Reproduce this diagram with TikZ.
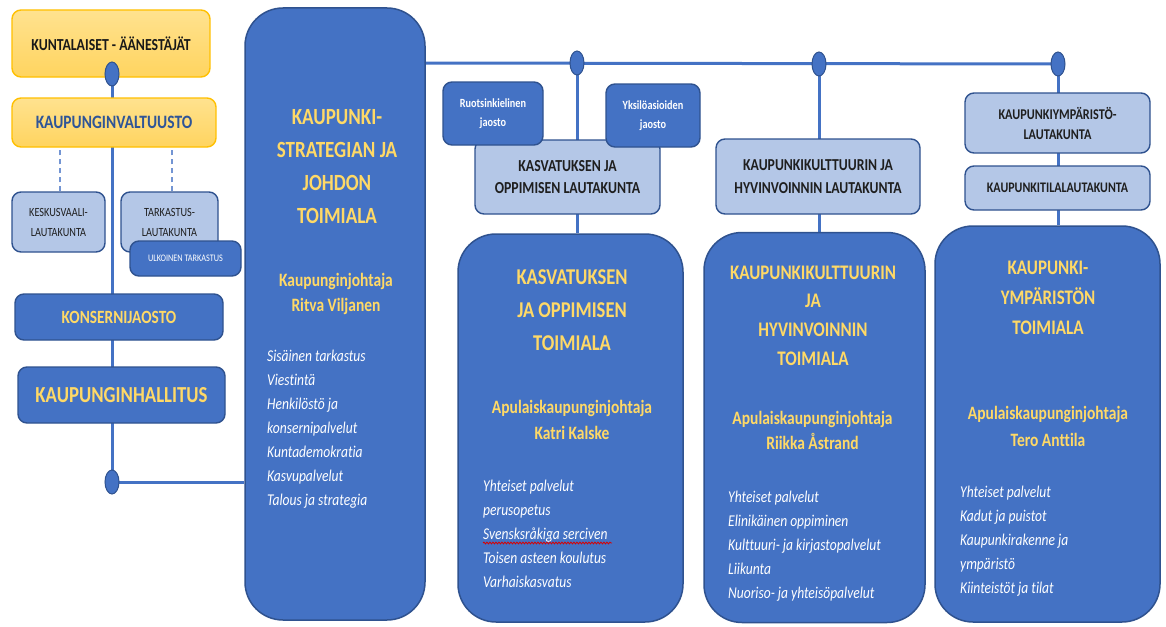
\documentclass[tikz,border=0pt]{standalone}
\usepackage{fontspec}
\setmainfont{Carlito}[FakeStretch=0.82, Ligatures=NoCommon]
\usetikzlibrary{shapes.geometric,decorations.pathmorphing}
\pgfdeclarelayer{background}
\pgfsetlayers{background,main}

\definecolor{orgblue}{HTML}{4472C4}
\definecolor{edgeblue}{HTML}{2F528F}
\definecolor{paleblue}{HTML}{B4C7E7}
\definecolor{titleyellow}{HTML}{FFD966}
\definecolor{goldtop}{HTML}{FFE28F}
\definecolor{goldbottom}{HTML}{FFD45F}
\definecolor{goldedge}{HTML}{FFC000}
\definecolor{councilblue}{HTML}{2F5597}
\newcommand\fsz[2]{\fontsize{#1}{#2}\selectfont}

\tikzset{
  bus/.style={draw=orgblue, line width=3pt},
  guide/.style={draw=orgblue!75, line width=1.1pt, dash pattern=on 5pt off 4pt},
  junction/.style={ellipse, fill=orgblue, draw=edgeblue, line width=1pt,
    minimum width=14pt, minimum height=24pt, inner sep=0pt},
  card/.style={rectangle, rounded corners=9pt, line width=1.4pt, draw=edgeblue,
    align=center, inner sep=0pt},
  bluecard/.style={card, fill=orgblue, text=white},
  palecard/.style={card, fill=paleblue, text=black!88},
  goldcard/.style={card, draw=goldedge, top color=goldtop, bottom color=goldbottom},
  division/.style={rectangle, rounded corners=38pt, line width=1.5pt,
    draw=edgeblue, fill=orgblue},
  divtitle/.style={text=titleyellow, align=center, inner sep=0pt, anchor=north},
  divlead/.style={text=titleyellow, align=center, inner sep=0pt, anchor=north},
  divlist/.style={text=white, align=left, inner sep=0pt, anchor=north west},
  spellmark/.style={draw=red!85!black, line width=0.8pt, decorate,
    decoration={snake, amplitude=0.9pt, segment length=3pt}},
}

\begin{document}
\begin{tikzpicture}[x=1pt,y=-1pt]
\begin{pgfonlayer}{background}
  \fill[white] (0,0) rectangle (1166,626);
\end{pgfonlayer}
\useasboundingbox (0,0) rectangle (1166,626);

% --- council column ---
\node[goldcard, minimum width=198pt, minimum height=67pt, text=black!90,
  font=\bfseries\fsz{16.8}{20}] (citizens) at (111,43.5) {KUNTALAISET - ÄÄNESTÄJÄT};
\node[goldcard, minimum width=204pt, minimum height=49pt, text=councilblue,
  font=\bfseries\fsz{18.9}{22}] (council) at (114,122.5) {KAUPUNGINVALTUUSTO};
\node[palecard, minimum width=93pt, minimum height=60pt,
  font=\fsz{12.5}{20}] (elect) at (58.5,222) {KESKUSVAALI-\\LAUTAKUNTA};
\node[palecard, minimum width=97pt, minimum height=60pt,
  font=\fsz{12.5}{20}] (audit) at (169.5,222) {TARKASTUS-\\LAUTAKUNTA};
\node[bluecard, minimum width=111pt, minimum height=35pt,
  font=\fsz{10}{12}] (extaudit) at (185.5,258.5) {ULKOINEN TARKASTUS};
\node[bluecard, minimum width=208pt, minimum height=46pt, text=titleyellow,
  font=\bfseries\fsz{18.7}{22}] (group) at (119,317) {KONSERNIJAOSTO};
\node[bluecard, minimum width=207pt, minimum height=56pt, text=titleyellow,
  font=\bfseries\fsz{22.9}{26}] (board) at (121.5,395) {KAUPUNGINHALLITUS};

% --- divisions ---
\node[division, minimum width=180pt, minimum height=612pt] (d1) at (335,314) {};
\node[division, minimum width=225pt, minimum height=388pt] (d2) at (570.5,428) {};
\node[division, minimum width=221pt, minimum height=390pt] (d3) at (814.5,427.5) {};
\node[division, minimum width=225pt, minimum height=396pt] (d4) at (1047.5,424) {};

% --- committees ---
\node[palecard, minimum width=185pt, minimum height=74pt,
  font=\bfseries\fsz{16.8}{22.5}] (eduboard) at (567.5,177) {KASVATUKSEN JA\\OPPIMISEN LAUTAKUNTA};
\node[bluecard, minimum width=100pt, minimum height=63pt,
  font=\bfseries\fsz{12.5}{19.5}] (swedish) at (493,113.5) {Ruotsinkielinen\\jaosto};
\node[bluecard, minimum width=94pt, minimum height=63pt,
  font=\bfseries\fsz{12.5}{19.5}] (indiv) at (653,115.5) {Yksilöasioiden\\jaosto};
\node[palecard, minimum width=204pt, minimum height=75pt,
  font=\bfseries\fsz{16.7}{22.5}] (cultboard) at (818,176.5) {KAUPUNKIKULTTUURIN JA\\HYVINVOINNIN LAUTAKUNTA};
\node[palecard, minimum width=185pt, minimum height=60pt,
  font=\bfseries\fsz{14.9}{20}] (envboard) at (1057.5,123) {KAUPUNKIYMPÄRISTÖ-\\LAUTAKUNTA};
\node[palecard, minimum width=185pt, minimum height=44pt,
  font=\bfseries\fsz{14.6}{17}] (premboard) at (1057.5,188) {KAUPUNKITILALAUTAKUNTA};

% --- junction points ---
\node[junction] (j0) at (112,74) {};
\node[junction] (j1) at (112,482) {};
\node[junction] (j2) at (577,63) {};
\node[junction] (j3) at (819,64) {};
\node[junction] (j4) at (1058,64) {};

% --- division texts ---
\node[divtitle, font=\bfseries\fsz{23.2}{33}] (d1title) at (337,109.6)
  {KAUPUNKI-\\STRATEGIAN JA\\JOHDON\\TOIMIALA};
\node[divlead, font=\bfseries\fsz{18.9}{25}] (d1lead) at (336,273)
  {Kaupunginjohtaja\\Ritva Viljanen};
\node[divlist, font=\itshape\fsz{16.5}{24}] (d1list) at (267,350.3)
  {Sisäinen tarkastus\\Viestintä\\Henkilöstö ja\\konsernipalvelut\\Kuntademokratia\\Kasvupalvelut\\Talous ja strategia};

\node[divtitle, font=\bfseries\fsz{22.6}{33}] (d2title) at (572,269.8)
  {KASVATUKSEN\\JA OPPIMISEN\\TOIMIALA};
\node[divlead, font=\bfseries\fsz{18.9}{26}] (d2lead) at (572,400)
  {Apulaiskaupunginjohtaja\\Katri Kalske};
\node[divlist, font=\itshape\fsz{16.5}{23.8}] (d2list) at (483,480.3)
  {Yhteiset palvelut\\perusopetus\\Svensksråkiga serciven\\Toisen asteen koulutus\\Varhaiskasvatus};

\node[divtitle, font=\bfseries\fsz{20.7}{28.7}] (d3title) at (813,265.4)
  {KAUPUNKIKULTTUURIN\\JA\\HYVINVOINNIN\\TOIMIALA};
\node[divlead, font=\bfseries\fsz{18.9}{25}] (d3lead) at (812.5,411)
  {Apulaiskaupunginjohtaja\\Riikka Åstrand};
\node[divlist, font=\itshape\fsz{16.5}{23.8}] (d3list) at (728,491.3)
  {Yhteiset palvelut\\Elinikäinen oppiminen\\Kulttuuri- ja kirjastopalvelut\\Liikunta\\Nuoriso- ja yhteisöpalvelut};

\node[divtitle, font=\bfseries\fsz{20.7}{30}] (d4title) at (1048,260.4)
  {KAUPUNKI-\\YMPÄRISTÖN\\TOIMIALA};
\node[divlead, font=\bfseries\fsz{18.9}{27}] (d4lead) at (1048,406)
  {Apulaiskaupunginjohtaja\\Tero Anttila};
\node[divlist, font=\itshape\fsz{16.5}{23.8}] (d4list) at (960,486.3)
  {Yhteiset palvelut\\Kadut ja puistot\\Kaupunkirakenne ja\\ympäristö\\Kiinteistöt ja tilat};

% spell-check squiggle under the Swedish-language line
\draw[spellmark] (483,543) -- (612,543);

% --- connectors, behind the boxes ---
\begin{pgfonlayer}{background}
  \draw[bus] (j0.center) -- (j1.center);
  \draw[bus] (j1.center) -- (j1.center -| d1.west);
  \draw[bus] (d1.east |- j2.center) -- (j4.center);
  \draw[bus] (j2.center) -- (j2.center |- d2.north);
  \draw[bus] (j3.center) -- (j3.center |- d3.north);
  \draw[bus] (j4.center) -- (j4.center |- d4.north);
  \draw[guide] ([xshift=1.5pt]elect.north) -- ([xshift=1.5pt]elect.north |- council.south);
  \draw[guide] ([xshift=2.5pt]audit.north) -- ([xshift=2.5pt]audit.north |- council.south);
\end{pgfonlayer}
\end{tikzpicture}
\end{document}
